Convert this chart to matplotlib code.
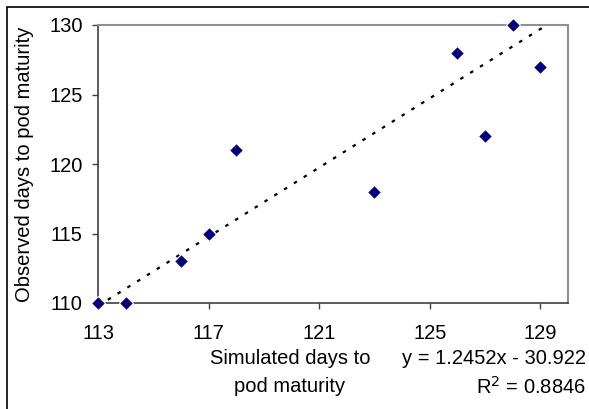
import matplotlib
matplotlib.use("Agg")
import matplotlib.pyplot as plt
import numpy as np
from matplotlib.patches import Rectangle

simulated = [113, 114, 116, 117, 118, 123, 126, 127, 128, 129]
observed = [110, 110, 113, 115, 121, 118, 128, 122, 130, 127]
x_ticks = [113, 117, 121, 125, 129]
y_ticks = [110, 115, 120, 125, 130]
slope = 1.2452
intercept = -30.922
r2 = 0.8846

plt.rcParams['font.family'] = ['Liberation Sans', 'DejaVu Sans']
FS = 14.5

W, H = 589, 409
fig = plt.figure(figsize=(W / 100, H / 100), dpi=100)

def fx(px):
    return px / W

def fy(py):
    return 1 - py / H

ax = fig.add_axes([fx(98), fy(303), fx(568) - fx(98), fy(25) - fy(303)])

# outer chart border (partially cropped)
fig.patches.append(Rectangle((fx(7), fy(420)), 1.2, fy(7) - fy(420),
                             transform=fig.transFigure, fill=False,
                             edgecolor='black', linewidth=1.2))

ax.set_xlim(113, 130)
ax.set_ylim(110, 130)
ax.set_xticks(x_ticks)
ax.set_yticks(y_ticks)
ax.tick_params(direction='out', length=4, width=1, colors='#404040',
               labelsize=FS, labelcolor='black', pad=4)
ax.tick_params(axis='x', pad=11)
ax.tick_params(axis='y', pad=7)
for s in ['left', 'bottom']:
    ax.spines[s].set_color('#404040')
    ax.spines[s].set_linewidth(1.2)
for s in ['top', 'right']:
    ax.spines[s].set_color('#909090')
    ax.spines[s].set_linewidth(1.5)

# trendline
xl = np.linspace(min(simulated), 129.3, 100)
ax.plot(xl, slope * xl + intercept, color='black', linewidth=1.6,
        linestyle=(0, (1.6, 3.6)), zorder=2)

ax.plot(simulated, observed, linestyle='none', marker='D', markersize=7.5,
        markerfacecolor='#000080', markeredgecolor='white',
        markeredgewidth=0.8, clip_on=False, zorder=5)

ax.set_ylabel('Observed days to pod maturity', fontsize=FS)
ax.yaxis.set_label_coords((34 - 98) / 470, 0.5)

fig.text(fx(290), fy(373), 'Simulated days to\npod maturity', ha='center',
         va='center', fontsize=FS, linespacing=1.6)
fig.text(fx(586), fy(358), 'y = 1.2452x - 30.922', ha='right', va='center',
         fontsize=FS)
fig.text(fx(586), fy(387), 'R$^2$ = 0.8846', ha='right', va='center',
         fontsize=FS)

fig.savefig('out.png', dpi=100)
